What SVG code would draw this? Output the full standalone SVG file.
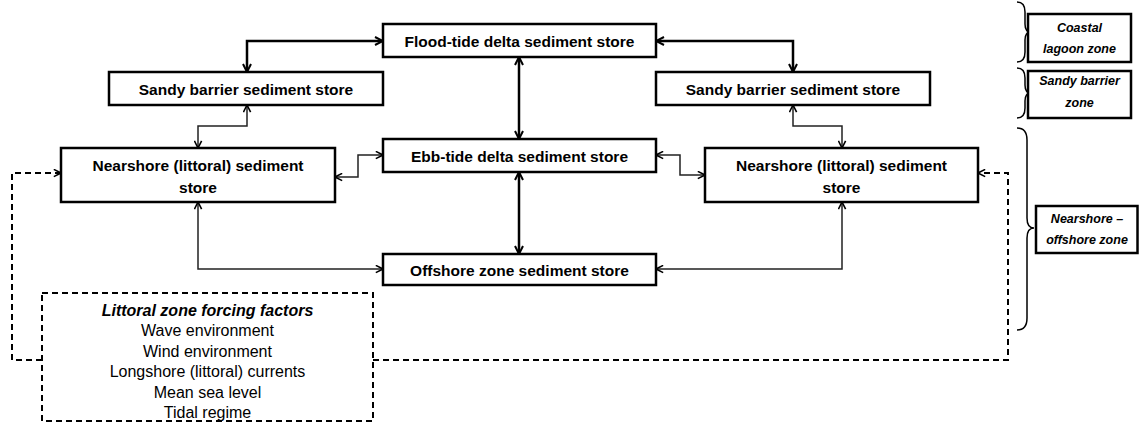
<svg xmlns="http://www.w3.org/2000/svg" width="1139" height="432" viewBox="0 0 1139 432">
<style>
.box{fill:#fff;stroke:#000;stroke-width:2.5}
.lbl{font-family:"Liberation Sans",Arial,sans-serif;font-weight:bold;font-size:15.5px;fill:#000;text-anchor:middle;dominant-baseline:central}
.zl{font-family:"Liberation Sans",Arial,sans-serif;font-weight:bold;font-style:italic;font-size:12.5px;fill:#000;text-anchor:middle;dominant-baseline:central}
.ft{font-family:"Liberation Sans",Arial,sans-serif;font-size:16px;fill:#000;text-anchor:middle;dominant-baseline:central}
.thick{fill:none;stroke:#000;stroke-width:2.5;marker-start:url(#ah);marker-end:url(#ah)}
.thin{fill:none;stroke:#222;stroke-width:1.5;marker-start:url(#ah2);marker-end:url(#ah2)}
.dash{fill:none;stroke:#000;stroke-width:2;stroke-dasharray:6,4;marker-end:url(#ah2)}
.brace{fill:none;stroke:#000;stroke-width:1.5}
</style>
<defs>
<marker id="ah" viewBox="0 0 10 10" refX="9" refY="5" markerWidth="10" markerHeight="10" markerUnits="userSpaceOnUse" orient="auto-start-reverse">
<path d="M1,1 L9,5 L1,9" fill="none" stroke="#000" stroke-width="2"/>
</marker>
<marker id="ah2" viewBox="0 0 10 10" refX="9" refY="5" markerWidth="9" markerHeight="9" markerUnits="userSpaceOnUse" orient="auto-start-reverse">
<path d="M1,1 L9,5 L1,9" fill="none" stroke="#000" stroke-width="1.8"/>
</marker>
</defs>
<rect width="1139" height="432" fill="#fff"/>
<g id="connectors">
<path class="thick" d="M383,41 H247 V72"/>
<path class="thick" d="M656,41 H793 V72"/>
<path class="thick" d="M519,57 V139"/>
<path class="thick" d="M519,172 V254"/>
<path class="thin" d="M247,105 V126 H198 V148"/>
<path class="thin" d="M793,105 V126 H842 V148"/>
<path class="thin" d="M335,177 H358 V155 H383"/>
<path class="thin" d="M656,155 H680 V175 H705"/>
<path class="thin" d="M198,202 V269 H383"/>
<path class="thin" d="M656,269 H842 V202"/>
<path class="dash" d="M42,360 H12 V173 H61"/>
<path class="dash" d="M373,360 H1008 V173 H978"/>
</g>
<g id="flood">
<rect class="box" x="383" y="24" width="273" height="33"/>
<text class="lbl" x="519.5" y="41">Flood-tide delta sediment store</text>
</g>
<g id="sandyL">
<rect class="box" x="109" y="72" width="274" height="33"/>
<text class="lbl" x="246" y="89">Sandy barrier sediment store</text>
</g>
<g id="sandyR">
<rect class="box" x="656" y="72" width="274" height="33"/>
<text class="lbl" x="793" y="89">Sandy barrier sediment store</text>
</g>
<g id="ebb">
<rect class="box" x="383" y="139" width="273" height="33"/>
<text class="lbl" x="519.5" y="156">Ebb-tide delta sediment store</text>
</g>
<g id="nearL">
<rect class="box" x="61" y="148" width="274" height="54"/>
<text class="lbl" x="198" y="165">Nearshore (littoral) sediment</text>
<text class="lbl" x="198" y="187">store</text>
</g>
<g id="nearR">
<rect class="box" x="705" y="148" width="273" height="54"/>
<text class="lbl" x="841.5" y="165">Nearshore (littoral) sediment</text>
<text class="lbl" x="841.5" y="187">store</text>
</g>
<g id="offshore">
<rect class="box" x="383" y="254" width="273" height="31"/>
<text class="lbl" x="519.5" y="270">Offshore zone sediment store</text>
</g>
<g id="forcing">
<rect x="42" y="293" width="331" height="128" fill="#fff" stroke="#000" stroke-width="2" stroke-dasharray="6,4"/>
<text class="ft" x="207.5" y="310" font-style="italic" font-weight="bold" font-size="15.5">Littoral zone forcing factors</text>
<text class="ft" x="207.5" y="330.5">Wave environment</text>
<text class="ft" x="207.5" y="351">Wind environment</text>
<text class="ft" x="207.5" y="371.5">Longshore (littoral) currents</text>
<text class="ft" x="207.5" y="392">Mean sea level</text>
<text class="ft" x="207.5" y="412">Tidal regime</text>
</g>
<g id="zoneCoastal">
<path class="brace" d="M1017,2 Q1025,2 1025,12 L1025,24 Q1025,32 1031,32 Q1025,32 1025,40 L1025,52 Q1025,62 1017,62"/>
<rect class="box" x="1028" y="14" width="103" height="48"/>
<text class="zl" x="1079.5" y="28">Coastal</text>
<text class="zl" x="1079.5" y="49">lagoon zone</text>
</g>
<g id="zoneSandy">
<path class="brace" d="M1017,68 Q1025,68 1025,78 L1025,85 Q1025,93 1031,93 Q1025,93 1025,101 L1025,108 Q1025,118 1017,118"/>
<rect class="box" x="1028" y="71" width="103" height="47"/>
<text class="zl" x="1079.5" y="81">Sandy barrier</text>
<text class="zl" x="1079.5" y="103">zone</text>
</g>
<g id="zoneNearshore">
<path class="brace" d="M1017,128 Q1027,128 1027,140 L1027,218 Q1027,228 1034,228 Q1027,228 1027,238 L1027,318 Q1027,330 1017,330"/>
<rect class="box" x="1036" y="206" width="101.5" height="47"/>
<text class="zl" x="1087" y="219">Nearshore –</text>
<text class="zl" x="1087" y="240">offshore zone</text>
</g>
</svg>
